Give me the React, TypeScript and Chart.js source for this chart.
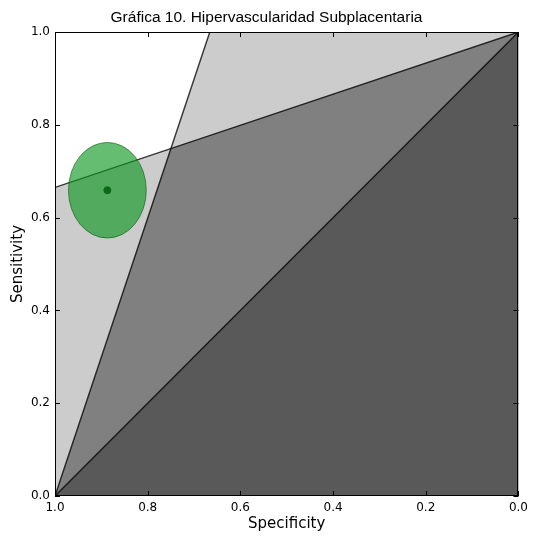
import React, { useEffect, useRef } from "react";
import { Chart, registerables } from "chart.js";

Chart.register(...registerables);

const TITLE = "Gráfica 10. Hipervascularidad Subplacentaria";
const X_LABEL = "Specificity";
const Y_LABEL = "Sensitivity";
const TICK_VALUES = [0, 0.2, 0.4, 0.6, 0.8, 1.0];

// observed point (specificity, sensitivity)
const pointSpec = [0.887];
const pointSens = [0.659];
// confidence ellipse half-axes (data units)
const ellipseHalfSpec = 0.084;
const ellipseHalfSens = 0.103;

// boundary lines
const line1Spec = [1.0, 0.666];
const line1Sens = [0.0, 1.0];
const line2Spec = [1.0, 0.0];
const line2Sens = [0.665, 1.0];
const diagSpec = [1.0, 0.0];
const diagSens = [0.0, 1.0];

// shaded regions (polygons)
const regionASpec = [1.0, 0.666, 0.0, 0.0];
const regionASens = [0.0, 1.0, 1.0, 0.0];
const regionBSpec = [1.0, 1.0, 0.0, 0.0];
const regionBSens = [0.0, 0.665, 1.0, 0.0];
const regionCSpec = [1.0, 0.75, 0.0, 0.0];
const regionCSens = [0.0, 0.749, 1.0, 0.0];
const regionDSpec = [1.0, 0.0, 0.0];
const regionDSens = [0.0, 1.0, 0.0];

const LIGHT = "#cccccc";
const MEDIUM = "#808080";
const DARK = "#595959";
const LINE = "rgba(0,0,0,0.78)";

const pts = (xs: number[], ys: number[]) => xs.map((x, i) => ({ x, y: ys[i] }));

const polygon = (label: string, xs: number[], ys: number[], color: string, order: number) => ({
  label,
  data: pts(xs, ys),
  showLine: true,
  fill: "shape",
  backgroundColor: color,
  borderWidth: 0,
  borderColor: "rgba(0,0,0,0)",
  pointRadius: 0,
  order,
});

const lineDs = (label: string, xs: number[], ys: number[]) => ({
  label,
  data: pts(xs, ys),
  showLine: true,
  fill: false,
  borderColor: LINE,
  borderWidth: 1.4,
  pointRadius: 0,
  order: 5,
});

const framePlugin = {
  id: "frameTicks",
  beforeDatasetDraw(chart: any, args: any) {
    const ds = chart.data.datasets[args.index];
    if (ds.label !== "point") return;
    const { ctx, scales } = chart;
    const cx = scales.x.getPixelForValue(pointSpec[0]);
    const cy = scales.y.getPixelForValue(pointSens[0]);
    const rx = Math.abs(scales.x.getPixelForValue(pointSpec[0] + ellipseHalfSpec) - cx);
    const ry = Math.abs(scales.y.getPixelForValue(pointSens[0] + ellipseHalfSens) - cy);
    ctx.save();
    ctx.beginPath();
    ctx.ellipse(cx, cy, rx, ry, 0, 0, Math.PI * 2);
    ctx.fillStyle = "rgba(10,150,30,0.63)";
    ctx.fill();
    ctx.strokeStyle = "rgba(0,80,0,0.55)";
    ctx.lineWidth = 1;
    ctx.stroke();
    ctx.restore();
  },
  afterDraw(chart: any) {
    const { ctx, chartArea: a, scales } = chart;
    ctx.save();
    ctx.strokeStyle = "#000";
    ctx.lineWidth = 1;
    ctx.strokeRect(Math.round(a.left) + 0.5, Math.round(a.top) + 0.5, Math.round(a.width) - 1, Math.round(a.height) - 1);
    const L = 5;
    ctx.beginPath();
    for (const v of TICK_VALUES) {
      const x = Math.round(scales.x.getPixelForValue(v)) + 0.5;
      ctx.moveTo(x, a.bottom);
      ctx.lineTo(x, a.bottom - L);
      ctx.moveTo(x, a.top);
      ctx.lineTo(x, a.top + L);
      const y = Math.round(scales.y.getPixelForValue(v)) + 0.5;
      ctx.moveTo(a.left, y);
      ctx.lineTo(a.left + L, y);
      ctx.moveTo(a.right, y);
      ctx.lineTo(a.right - L, y);
    }
    ctx.stroke();
    ctx.restore();
  },
};

export default function App() {
  const ref = useRef<HTMLCanvasElement | null>(null);
  useEffect(() => {
    if (!ref.current) return;
    const tickFont = { family: "DejaVu Sans", size: 12 };
    const titleFont = { family: "DejaVu Sans", size: 15 };
    const chart = new Chart(ref.current, {
      type: "scatter",
      data: {
        datasets: [
          {
            label: "point",
            data: pts(pointSpec, pointSens),
            pointRadius: 3.5,
            pointBackgroundColor: "#0a6a16",
            pointBorderColor: "#0a6a16",
            showLine: false,
            order: 1,
          } as any,
          lineDs("line1", line1Spec, line1Sens),
          lineDs("line2", line2Spec, line2Sens),
          lineDs("diag", diagSpec, diagSens),
          polygon("regionA", regionASpec, regionASens, LIGHT, 12),
          polygon("regionB", regionBSpec, regionBSens, LIGHT, 11),
          polygon("regionC", regionCSpec, regionCSens, MEDIUM, 10),
          polygon("regionD", regionDSpec, regionDSens, DARK, 9),
        ],
      },
      options: {
        animation: false,
        responsive: true,
        maintainAspectRatio: false,
        layout: { padding: { left: 0, right: 0, top: 0, bottom: 0 } },
        plugins: {
          legend: { display: false },
          tooltip: { enabled: false },
          title: {
            display: true,
            text: TITLE,
            color: "#000",
            font: { family: "Liberation Sans", size: 15.5, weight: "normal" },
            padding: { top: 8, bottom: 5.4 },
          },
        },
        scales: {
          x: {
            type: "linear",
            reverse: true,
            min: 0,
            max: 1,
            afterFit: (s: any) => {
              s.height = 46;
            },
            ticks: {
              stepSize: 0.2,
              callback: (v: any) => Number(v).toFixed(1),
              color: "#000",
              font: tickFont,
              padding: 5,
              maxRotation: 0,
            },
            grid: { display: false, drawTicks: false },
            border: { display: false },
            title: { display: true, text: X_LABEL, color: "#000", font: titleFont, padding: { top: 0, bottom: 9 } },
          },
          y: {
            type: "linear",
            min: 0,
            max: 1,
            afterFit: (s: any) => {
              s.width = 55;
            },
            ticks: {
              stepSize: 0.2,
              callback: (v: any) => Number(v).toFixed(1),
              color: "#000",
              font: tickFont,
              padding: 5,
            },
            grid: { display: false, drawTicks: false },
            border: { display: false },
            title: { display: true, text: Y_LABEL, color: "#000", font: titleFont, padding: { top: 9, bottom: 0 } },
          },
          yRight: {
            type: "linear",
            position: "right",
            min: 0,
            max: 1,
            afterFit: (s: any) => {
              s.width = 14;
            },
            ticks: { display: false },
            grid: { display: false, drawTicks: false },
            border: { display: false },
          },
        },
      } as any,
      plugins: [framePlugin],
    });
    return () => chart.destroy();
  }, []);
  return (
    <div style={{ position: "absolute", left: 0, top: 0, width: 533, height: 542, background: "#fff" }}>
      <canvas ref={ref} />
    </div>
  );
}
